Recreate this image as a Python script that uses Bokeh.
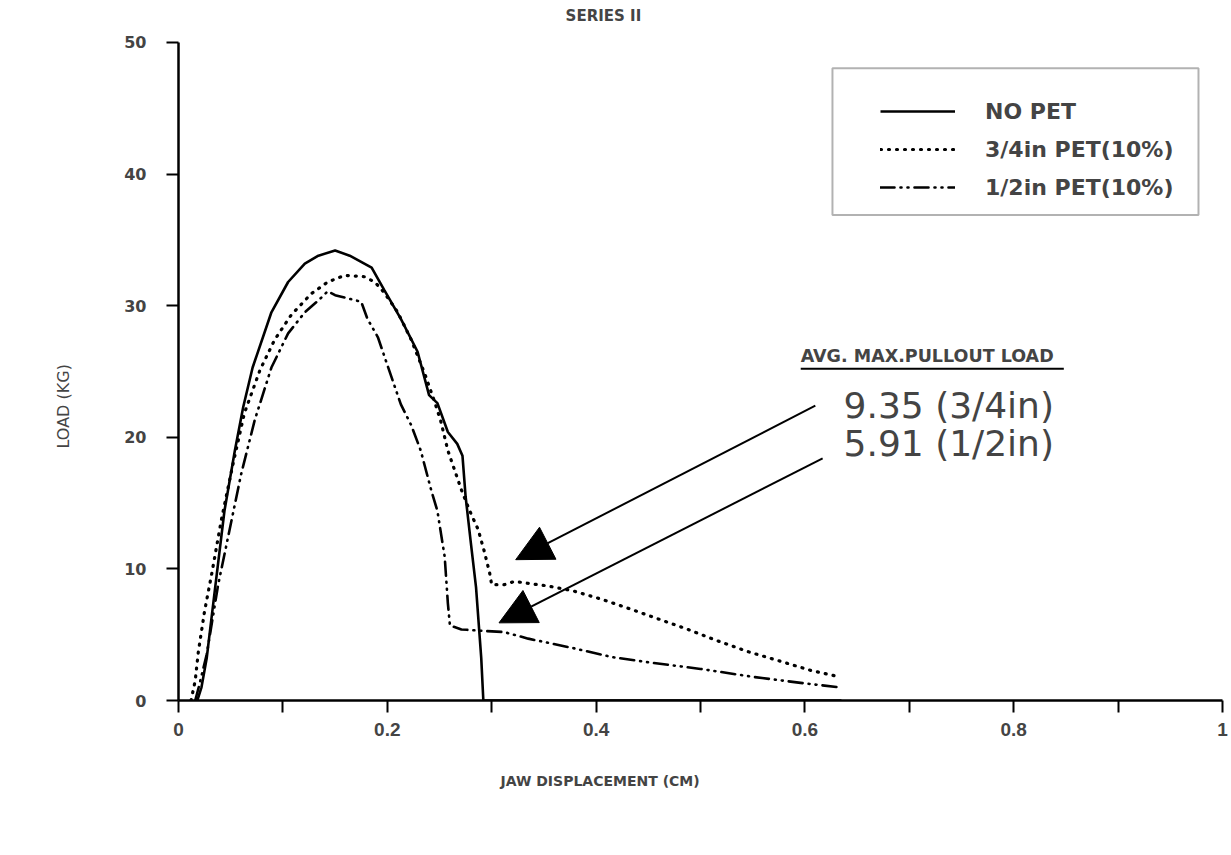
from bokeh.plotting import figure
from bokeh.models import (Range1d, FixedTicker, Label, Arrow, NormalHead,
                          BoxAnnotation, Legend, LegendItem, Title)
from bokeh.embed import file_html
from bokeh.resources import INLINE

# ---------------- data ----------------
nopet_x = [0.018, 0.022, 0.027, 0.035, 0.044, 0.054, 0.062, 0.071, 0.089, 0.105,
           0.121, 0.134, 0.150, 0.164, 0.185, 0.197, 0.213, 0.229, 0.240, 0.248,
           0.258, 0.267, 0.272, 0.275, 0.280, 0.285, 0.290, 0.292, 0.400, 0.500, 0.635]
nopet_y = [0.0, 1.0, 3.2, 8.5, 14.4, 19.0, 22.3, 25.3, 29.5, 31.8,
           33.2, 33.8, 34.2, 33.8, 32.9, 31.2, 29.0, 26.5, 23.2, 22.6,
           20.4, 19.5, 18.6, 15.5, 12.0, 8.6, 3.2, 0.0, 0.0, 0.0, 0.0]

pet34_x = [0.012, 0.016, 0.019, 0.025, 0.032, 0.041, 0.052, 0.063, 0.078, 0.092,
           0.108, 0.127, 0.143, 0.159, 0.178, 0.188, 0.197, 0.210, 0.223, 0.236,
           0.244, 0.251, 0.258, 0.271, 0.279, 0.287, 0.293, 0.298, 0.300, 0.312,
           0.322, 0.335, 0.354, 0.377, 0.405, 0.431, 0.463, 0.488, 0.514, 0.546,
           0.580, 0.605, 0.633]
pet34_y = [0.0, 1.5, 3.7, 6.8, 9.7, 13.7, 17.9, 21.8, 25.1, 27.4,
           29.3, 30.9, 31.8, 32.3, 32.2, 31.8, 31.0, 29.5, 27.4, 24.8,
           23.0, 21.3, 19.0, 16.0, 14.4, 13.0, 11.3, 9.7, 8.8, 8.8,
           9.05, 8.9, 8.7, 8.35, 7.7, 7.0, 6.1, 5.4, 4.6, 3.7,
           2.9, 2.3, 1.8]

pet12_x = [0.016, 0.020, 0.027, 0.038, 0.049, 0.060, 0.073, 0.089, 0.105, 0.121,
           0.134, 0.143, 0.150, 0.165, 0.175, 0.181, 0.191, 0.200, 0.213, 0.223,
           0.232, 0.242, 0.248, 0.255, 0.258, 0.260, 0.271, 0.290, 0.312, 0.335,
           0.377, 0.415, 0.450, 0.500, 0.550, 0.600, 0.633]
pet12_y = [0.0, 1.2, 3.5, 8.8, 13.0, 17.2, 21.3, 25.3, 27.9, 29.5,
           30.4, 31.1, 30.8, 30.5, 30.3, 29.0, 27.6, 25.5, 22.5, 20.9,
           19.0, 16.0, 14.4, 10.9, 7.4, 5.7, 5.4, 5.3, 5.2, 4.7,
           4.0, 3.3, 2.9, 2.4, 1.8, 1.3, 1.0]

series_labels = ["NO PET", "3/4in PET(10%)", "1/2in PET(10%)"]
x_ticks = [0, 0.2, 0.4, 0.6, 0.8, 1]
x_minor = [0.1, 0.3, 0.5, 0.7, 0.9]
x_tick_labels = ["0", "0.2", "0.4", "0.6", "0.8", "1"]
y_ticks = [0, 10, 20, 30, 40, 50]

title_text = "SERIES II"
x_title = "JAW DISPLACEMENT (CM)"
y_title = "LOAD (KG)"
note_head = "AVG. MAX.PULLOUT LOAD"
note_lines = ["9.35 (3/4in)", "5.91 (1/2in)"]

# ---------------- figure ----------------
# the frame reaches the top of the canvas so the chart title can sit inside it;
# the y axis itself is bounded to 0..50
p = figure(width=1231, height=840, output_backend="svg", toolbar_location=None,
           title=None,
           x_range=Range1d(0, 1), y_range=Range1d(0, 53.19),
           min_border_left=178, min_border_right=9, min_border_top=0,
           min_border_bottom=140)
p.grid.visible = False
p.outline_line_color = None

xa = p.xaxis[0]
xa.ticker = FixedTicker(ticks=x_ticks, minor_ticks=x_minor)
xa.major_label_overrides = {str(t): l for t, l in zip(x_ticks, x_tick_labels)}
xa.axis_line_width = 2.5
xa.major_tick_out = 12
xa.major_tick_in = 0
xa.minor_tick_out = 12
xa.minor_tick_in = 0
xa.major_tick_line_width = 2
xa.minor_tick_line_width = 2
xa.major_label_standoff = 10
xa.major_label_text_font = "Liberation Sans"
xa.major_label_text_font_style = "bold"
xa.major_label_text_font_size = "19px"

ya = p.yaxis[0]
ya.bounds = (0, 50)
ya.ticker = FixedTicker(ticks=y_ticks, minor_ticks=[])
ya.axis_line_width = 2.5
ya.major_tick_out = 12
ya.major_tick_in = 0
ya.minor_tick_out = 0
ya.minor_tick_in = 0
ya.major_tick_line_width = 2
ya.major_label_standoff = 20
ya.major_label_text_font = "DejaVu Sans"
ya.major_label_text_font_style = "bold"
ya.major_label_text_font_size = "16px"

p.add_layout(Title(text=y_title, align="left", offset=252, standoff=98,
                   text_font="DejaVu Sans", text_font_style="normal",
                   text_font_size="16px"), "left")

p.add_layout(Title(text=x_title, align="left", offset=322, standoff=64,
                   text_font="DejaVu Sans", text_font_style="bold",
                   text_font_size="14px"), "below")

p.add_layout(Label(x=0.407, y=52.05, text=title_text, text_align="center",
                   text_baseline="middle", text_font="DejaVu Sans",
                   text_font_style="bold", text_font_size="15px"))

# ---------------- series ----------------
r1 = p.line(nopet_x, nopet_y, line_color="black", line_width=2.6)
r2 = p.line(pet34_x, pet34_y, line_color="black", line_width=3.2,
            line_dash="1 7", line_cap="round")
r3 = p.line(pet12_x, pet12_y, line_color="black", line_width=2.6,
            line_dash="14 6 1 6 1 6", line_cap="round")

legend = Legend(items=[LegendItem(label=series_labels[0], renderers=[r1]),
                       LegendItem(label=series_labels[1], renderers=[r2]),
                       LegendItem(label=series_labels[2], renderers=[r3])],
                location=(702, 499), border_line_alpha=0, background_fill_alpha=0,
                padding=0, margin=0, spacing=10, glyph_width=75, glyph_height=28,
                label_height=28, label_standoff=30,
                label_text_font="DejaVu Sans", label_text_font_style="bold",
                label_text_font_size="22px")
p.add_layout(legend)
p.add_layout(BoxAnnotation(left=0.6264, right=0.977, bottom=36.9, top=48.05,
                           fill_alpha=0, line_color="black", line_width=2))

# ---------------- annotations ----------------
p.add_layout(Label(x=0.596, y=26.2, text=note_head, text_baseline="middle",
                   text_font="DejaVu Sans", text_font_style="bold",
                   text_font_size="17.5px"))
p.add_layout(Arrow(x_start=0.596, y_start=25.2, x_end=0.848, y_end=25.2,
                   start=None, end=None, line_width=2, line_color="black"))
p.add_layout(Label(x=0.637, y=22.4, text=note_lines[0], text_baseline="middle",
                   text_font="DejaVu Sans", text_font_size="36px"))
p.add_layout(Label(x=0.637, y=19.5, text=note_lines[1], text_baseline="middle",
                   text_font="DejaVu Sans", text_font_size="36px"))
p.add_layout(Arrow(x_start=0.610, y_start=22.4, x_end=0.323, y_end=10.7,
                   end=NormalHead(size=36, fill_color="black", line_color="black"),
                   line_width=2, line_color="black"))
p.add_layout(Arrow(x_start=0.617, y_start=18.4, x_end=0.307, y_end=5.9,
                   end=NormalHead(size=36, fill_color="black", line_color="black"),
                   line_width=2, line_color="black"))

open("out.html", "w").write(file_html(p, INLINE))
